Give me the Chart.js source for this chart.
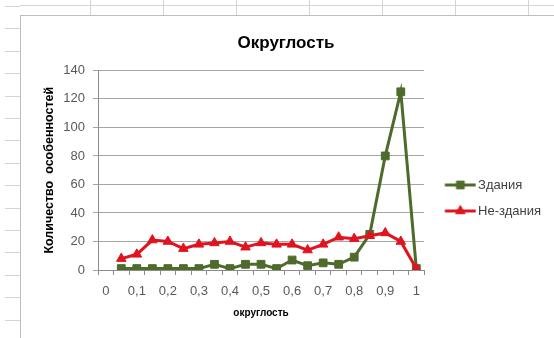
<!DOCTYPE html>
<html lang="ru">
<head>
<meta charset="UTF-8" />
<title>Округлость</title>
<script src="https://cdn.jsdelivr.net/npm/chart.js"></script>
<style>
  html, body { margin: 0; padding: 0; }
  body {
    width: 554px; height: 338px; overflow: hidden; position: relative;
    background: #fff; font-family: 'Liberation Sans', Arial, sans-serif;
  }
  /* кусок листа Excel вокруг диаграммы */
  .rows {
    position: absolute; left: 5px; top: 6px; width: 15px; height: 332px;
    background: repeating-linear-gradient(to bottom, #d4d4d4 0 1px, transparent 1px 22.4px);
  }
  .topline { position: absolute; left: 20px; right: 0; top: 5px; height: 1px; background: #d4d4d4; }
  .cols {
    position: absolute; left: 90px; right: 0; top: 0; height: 15px;
    background: repeating-linear-gradient(to right, #d4d4d4 0 1px, transparent 1px 73px);
  }
  #box {
    position: absolute; left: 20px; top: 15px; width: 560px; height: 322px;
    border: 1px solid #bdbdbd; background: #fff;
  }
  #wrap { position: absolute; left: 0; top: 0; width: 533px; height: 321px; }
</style>
</head>
<body>
<div class="rows"></div>
<div class="topline"></div>
<div class="cols"></div>
<div id="box"><div id="wrap"><canvas id="chart"></canvas></div></div>

<script>
  // категории оси X (21 шаг по 0,05), подписи показываются через одну
  const xCategories = ['0','0,05','0,1','0,15','0,2','0,25','0,3','0,35','0,4','0,45','0,5',
                       '0,55','0,6','0,65','0,7','0,75','0,8','0,85','0,9','0,95','1'];
  const xTickLabels = ['0','0,1','0,2','0,3','0,4','0,5','0,6','0,7','0,8','0,9','1'];
  const buildings    = [null,1,1,1,1,1,1,4,1,4,4,1,7,3,5,4,9,25,80,125,1];
  const nonBuildings = [null,8,11,21,20,15,18,19,20,16,19,18,18,14,18,23,22,24,26,20,1];
  const yTicks = [0,20,40,60,80,100,120,140];

  const GREEN = '#4e6b2c';
  const RED = '#e0141e';
  const FONT = "'Liberation Sans', Arial, sans-serif";

  // значок легенды: линия с маркером посередине
  function legendIcon(color, style) {
    const c = document.createElement('canvas');
    c.width = 44; c.height = 12;
    const g = c.getContext('2d');
    g.strokeStyle = color; g.lineWidth = 3;
    g.beginPath(); g.moveTo(12.5, 6); g.lineTo(43.5, 6); g.stroke();
    g.fillStyle = color; g.strokeStyle = color; g.lineWidth = 1;
    Chart.helpers.drawPoint(g, {pointStyle: style, radius: 5.5, borderWidth: 1}, 28, 6);
    return c;
  }
  const icons = [legendIcon(GREEN, 'rect'), legendIcon(RED, 'triangle')];

  new Chart(document.getElementById('chart'), {
    type: 'line',
    data: {
      labels: xCategories,
      datasets: [
        {
          label: 'Здания', data: buildings, order: 1,
          borderColor: GREEN, backgroundColor: GREEN, borderWidth: 3,
          pointStyle: 'rect', pointRadius: 5.5, pointBorderWidth: 1, tension: 0
        },
        {
          label: 'Не-здания', data: nonBuildings, order: 0,
          borderColor: RED, backgroundColor: RED, borderWidth: 3,
          pointStyle: 'triangle', pointRadius: 5.5, pointBorderWidth: 1, tension: 0
        }
      ]
    },
    options: {
      responsive: true,
      maintainAspectRatio: false,
      animation: false,
      layout: { padding: { left: 0, right: 3, top: 0, bottom: 0 } },
      plugins: {
        tooltip: { enabled: false },
        title: {
          display: true, text: 'Округлость', color: '#000',
          font: { family: FONT, size: 17, weight: 'bold' },
          padding: { top: 17, bottom: 17 }
        },
        legend: {
          position: 'right',
          title: { display: true, text: '', padding: { top: 31, bottom: 0 }, font: { size: 10 } },
          labels: {
            usePointStyle: true, pointStyleWidth: 34.5, padding: 13,
            color: '#404040', font: { family: FONT, size: 13 },
            generateLabels(chart) {
              const items = Chart.defaults.plugins.legend.labels.generateLabels(chart);
              items.sort((a, b) => a.datasetIndex - b.datasetIndex);
              items.forEach(it => { it.pointStyle = icons[it.datasetIndex]; });
              return items;
            }
          }
        }
      },
      scales: {
        x: {
          type: 'category',
          offset: true,
          afterFit(scale) { scale.height = 67; },
          grid: { display: true, offset: true, drawOnChartArea: false, tickLength: 5, color: '#8c8c8c' },
          border: { display: true, color: '#8c8c8c' },
          ticks: {
            autoSkip: false, maxRotation: 0, padding: 9, color: '#595959',
            font: { family: FONT, size: 13 },
            callback(v, i) {
              const lab = xCategories[i];
              return xTickLabels.includes(lab) ? lab : '';
            }
          },
          title: {
            display: true, text: 'округлость', color: '#000',
            font: { family: FONT, size: 10, weight: 'bold' },
            padding: { top: 0, bottom: 18 }
          }
        },
        y: {
          min: yTicks[0], max: yTicks[yTicks.length - 1],
          afterFit(scale) { scale.width = 77; },
          afterBuildTicks(scale) { scale.ticks = yTicks.map(v => ({ value: v })); },
          grid: { color: '#a6a6a6', tickLength: 5 },
          border: { display: true, color: '#8c8c8c' },
          ticks: { padding: 8, color: '#595959', font: { family: FONT, size: 13 } },
          title: {
            display: true, text: 'Количество  особенностей', color: '#000',
            font: { family: FONT, size: 12.5, weight: 'bold' },
            padding: { top: 21.5, bottom: 0 }
          }
        }
      }
    }
  });
</script>
</body>
</html>
